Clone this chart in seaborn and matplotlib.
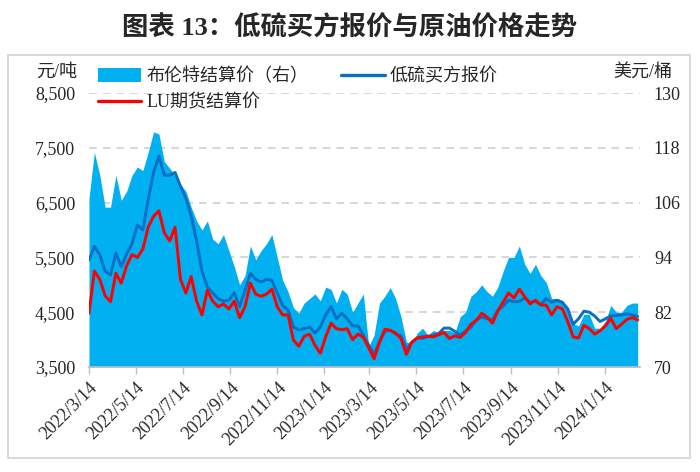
import matplotlib
matplotlib.use("Agg")
import matplotlib.pyplot as plt
import seaborn as sns
import pandas as pd
from matplotlib.patches import Rectangle, Patch
from matplotlib.lines import Line2D
from matplotlib.ticker import FuncFormatter

# ---------------- data (weekly samples) ----------------
week_dates = pd.date_range("2022-03-14", periods=103, freq="7D")

brent = [107, 117, 112, 105, 105, 112, 106.5, 108.5, 112, 113.8,
         113, 117, 121.5, 121, 115, 113.5, 112, 110, 108.5, 105,
         102, 100, 102, 98, 97, 99, 95.5, 92, 88, 90,
         96.5, 93.5, 95.5, 97, 99, 94, 89, 86.5, 83, 81.8,
         84, 85, 86, 84.5, 87.5, 87, 84, 87, 86, 82,
         84, 86, 74.5, 77, 84, 85.5, 87.4, 85, 81, 75.5,
         75, 77.4, 78.5, 77, 78, 77.5, 78, 78, 77.5, 81,
         82, 85.5, 86.5, 88, 86.5, 85.5, 87.5, 91, 94, 94,
         96.5, 92.5, 90.5, 92.5, 90, 88.5, 85, 85, 84.5, 83,
         79.5, 79, 81.5, 81.5, 78.5, 78.5, 80, 83.5, 82, 82,
         83.5, 84, 84]

lsfo_buyer = [5450, 5700, 5550, 5250, 5180, 5580, 5330, 5560, 5750, 6090,
              6000, 6550, 7050, 7350, 7000, 7000, 7050, 6800, 6580, 6250,
              5800, 5250, 4960, 4850, 4750, 4700, 4720, 4850, 4600, 4900,
              5210, 5100, 5050, 5100, 5080, 4850, 4620, 4540, 4230, 4175,
              4200, 4230, 4120, 4230, 4450, 4600, 4380, 4480, 4380, 4250,
              4250, 4080, 3900, 3740, 3960, 4150, 4170, 4100, 4070, 3830,
              3950, 4030, 4020, 4060, 4080, 4110, 4210, 4210, 4150, 4080,
              4160, 4220, 4360, 4410, 4380, 4360, 4540, 4610, 4720, 4690,
              4700, 4760, 4680, 4700, 4640, 4750, 4680, 4720, 4680, 4560,
              4280, 4380, 4520, 4500, 4430, 4330, 4380, 4430, 4440, 4450,
              4470, 4450, 4420]

lu_futures = [4480, 5250, 5100, 4800, 4690, 5210, 5030, 5350, 5550, 5500,
              5650, 6050, 6250, 6350, 5950, 5800, 6050, 5100, 4850, 5150,
              4700, 4450, 4900, 4700, 4600, 4650, 4560, 4700, 4400, 4600,
              5030, 4830, 4790, 4830, 4920, 4600, 4450, 4450, 3990, 3880,
              4060, 4100, 3900, 3750, 4050, 4300, 4200, 4180, 4200, 4000,
              4100, 4040, 3850, 3650, 3950, 4190, 4170, 4120, 4020, 3730,
              3950, 4030, 4050, 4060, 4050, 4090, 4130, 4020, 4070, 4040,
              4130, 4280, 4350, 4480, 4410, 4300, 4520, 4690, 4850, 4760,
              4920, 4780, 4650, 4720, 4630, 4630, 4450, 4600, 4560, 4330,
              4050, 4030, 4260, 4200, 4100, 4160, 4250, 4390, 4200, 4280,
              4370, 4400, 4360]

x_tick_labels = ["2022/3/14", "2022/5/14", "2022/7/14", "2022/9/14",
                 "2022/11/14", "2023/1/14", "2023/3/14", "2023/5/14",
                 "2023/7/14", "2023/9/14", "2023/11/14", "2024/1/14"]
left_ticks = [3500, 4500, 5500, 6500, 7500, 8500]
right_ticks = [70, 82, 94, 106, 118, 130]

series_names = ["布伦特结算价（右）", "LU期货结算价", "低硫买方报价"]

# ---------------- style ----------------
sns.set_theme(style="white")
plt.rcParams["font.family"] = ["Liberation Serif", "Noto Sans CJK SC", "DejaVu Sans"]

FILL = "#00B0F0"
BLUE = "#0A6FC2"
RED = "#FF0000"
GRID = "#CCCCCC"

W, H = 700, 472
fig = plt.figure(figsize=(7.0, 4.72), dpi=100)
fig.patch.set_facecolor("white")

# frame around the chart
fig.patches.append(Rectangle((8 / W, 1 - 458 / H), 682 / W, 403 / H,
                             transform=fig.transFigure, fill=False,
                             ec="#D6D6D6", lw=1.3, zorder=0))

ax_l, ax_r, ax_b, ax_t = 89, 640, 367, 93
ax = fig.add_axes([ax_l / W, 1 - ax_b / H, (ax_r - ax_l) / W, (ax_b - ax_t) / H])
ax2 = ax.twinx()

df = pd.DataFrame({"date": week_dates, "brent": brent,
                   "lsfo": lsfo_buyer, "lu": lu_futures})

# Brent area on the right axis
ax2.fill_between(df["date"], 70, df["brent"], color=FILL, lw=0, zorder=2)
ax2.set_ylim(70, 130)
ax2.set_yticks(right_ticks)
ax2.yaxis.grid(True, color=GRID, lw=1.1, ls=(0, (5, 4)), zorder=0)
ax2.set_axisbelow(True)

# lines on the left axis
sns.lineplot(data=df, x="date", y="lsfo", ax=ax, color=BLUE, lw=2.1, zorder=3)
sns.lineplot(data=df, x="date", y="lu", ax=ax, color=RED, lw=2.1, zorder=4)
ax.set_ylim(3500, 8500)
ax.set_yticks(left_ticks)
ax.yaxis.set_major_formatter(FuncFormatter(lambda v, p: f"{int(v):,}"))

ax.set_zorder(ax2.get_zorder() + 1)
ax.patch.set_visible(False)
ax2.patch.set_visible(False)

ax.set_xlim(pd.Timestamp("2022-03-14"), pd.Timestamp("2024-02-29"))
tick_pos = [pd.Timestamp(s.replace("/", "-")) for s in x_tick_labels]
ax.set_xticks(tick_pos)
ax.set_xticklabels(x_tick_labels, rotation=45, ha="right",
                   rotation_mode="anchor", fontsize=13)
ax.set_xlabel("")
ax.set_ylabel("")
ax2.set_ylabel("")

for a in (ax, ax2):
    for s in a.spines.values():
        s.set_visible(False)
ax.spines["bottom"].set_visible(True)
ax.spines["bottom"].set_color("#BFBFBF")
ax.tick_params(axis="x", which="major", length=5, width=1, color="#BFBFBF",
               direction="out", bottom=True, pad=4, labelsize=13)
ax.tick_params(axis="y", length=0, pad=10, labelsize=13)
ax2.tick_params(axis="y", length=0, pad=10, labelsize=13)

# axis unit labels
fig.text(57 / W, 1 - 72 / H, "元/吨", ha="center", va="center", fontsize=13)
fig.text(643 / W, 1 - 72 / H, "美元/桶", ha="center", va="center", fontsize=13)

# title
fig.text(0.5, 1 - 28 / H, "图表 13：低硫买方报价与原油价格走势", ha="center",
         va="center", fontsize=19, fontweight="bold")

# legend
handles = [Patch(facecolor=FILL, edgecolor="none"),
           Line2D([], [], color=RED, lw=2.4),
           Line2D([], [], color=BLUE, lw=2.4)]
fig.legend(handles, series_names, ncol=2, loc="upper left",
           bbox_to_anchor=(98 / W, 1 - 68 / H), frameon=False, fontsize=13,
           handlelength=2.4, handleheight=0.8, handletextpad=0.3,
           labelspacing=0.5, columnspacing=1.8, borderpad=0, borderaxespad=0)

fig.savefig("out.png", dpi=100, facecolor="white")
